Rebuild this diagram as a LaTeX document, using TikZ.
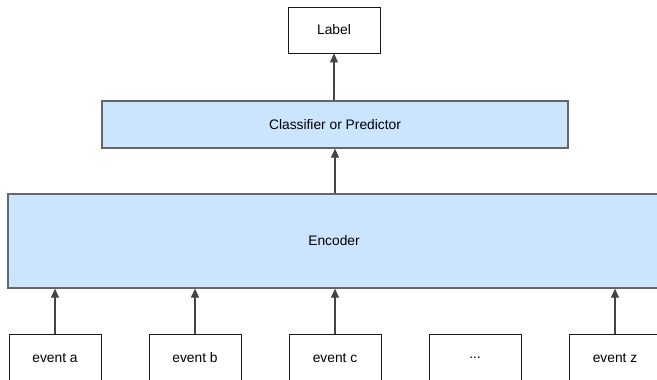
\documentclass[tikz,border=0pt]{standalone}
\usepackage{fontspec}
\setmainfont{Liberation Sans}
\usetikzlibrary{arrows.meta}
\definecolor{boxblue}{HTML}{CCE5FF}
\definecolor{boxline}{HTML}{666666}
\definecolor{arrowline}{HTML}{444444}
\tikzset{
  plainbox/.style={draw=black!90, line width=0.9pt, fill=white, minimum width=92pt, minimum height=46pt, inner sep=0pt, font=\fontsize{13.8}{15}\selectfont},
  bluebox/.style={draw=boxline, line width=1.3pt, fill=boxblue, inner sep=0pt, font=\fontsize{13.8}{15}\selectfont},
  flow/.style={draw=arrowline, line width=1.1pt, -{Triangle[length=9pt,width=8pt]}},
}
\begin{document}
\begin{tikzpicture}[x=1pt,y=-1pt]
  \useasboundingbox (0,0) rectangle (657,380);
  \clip (0,0) rectangle (657,380);
  % output label
  \node[plainbox] (label) at (334,30) {Label};
  % classifier head
  \node[bluebox, minimum width=466pt, minimum height=47pt] (clf) at (335,124.5) {Classifier or Predictor};
  % sequence encoder
  \node[bluebox, minimum width=652pt, minimum height=94pt] (enc) at (334,241) {Encoder};
  % input events
  \node[plainbox, minimum height=48pt] (ea) at (55,358) {event a};
  \node[plainbox, minimum height=48pt] (eb) at (195,358) {event b};
  \node[plainbox, minimum height=48pt] (ec) at (335,358) {event c};
  \node[plainbox, minimum height=48pt] (ed) at (475,358) {...};
  \node[plainbox, minimum height=48pt] (ez) at (615,358) {event z};
  % connectors
  \draw[flow] (ea.north) -- (ea.north |- enc.south);
  \draw[flow] (eb.north) -- (eb.north |- enc.south);
  \draw[flow] (ec.north) -- (ec.north |- enc.south);
  \draw[flow] (ez.north) -- (ez.north |- enc.south);
  \draw[flow] (enc.north -| clf.south) -- (clf.south);
  \draw[flow] (clf.north -| label.south) -- (label.south);
\end{tikzpicture}
\end{document}
